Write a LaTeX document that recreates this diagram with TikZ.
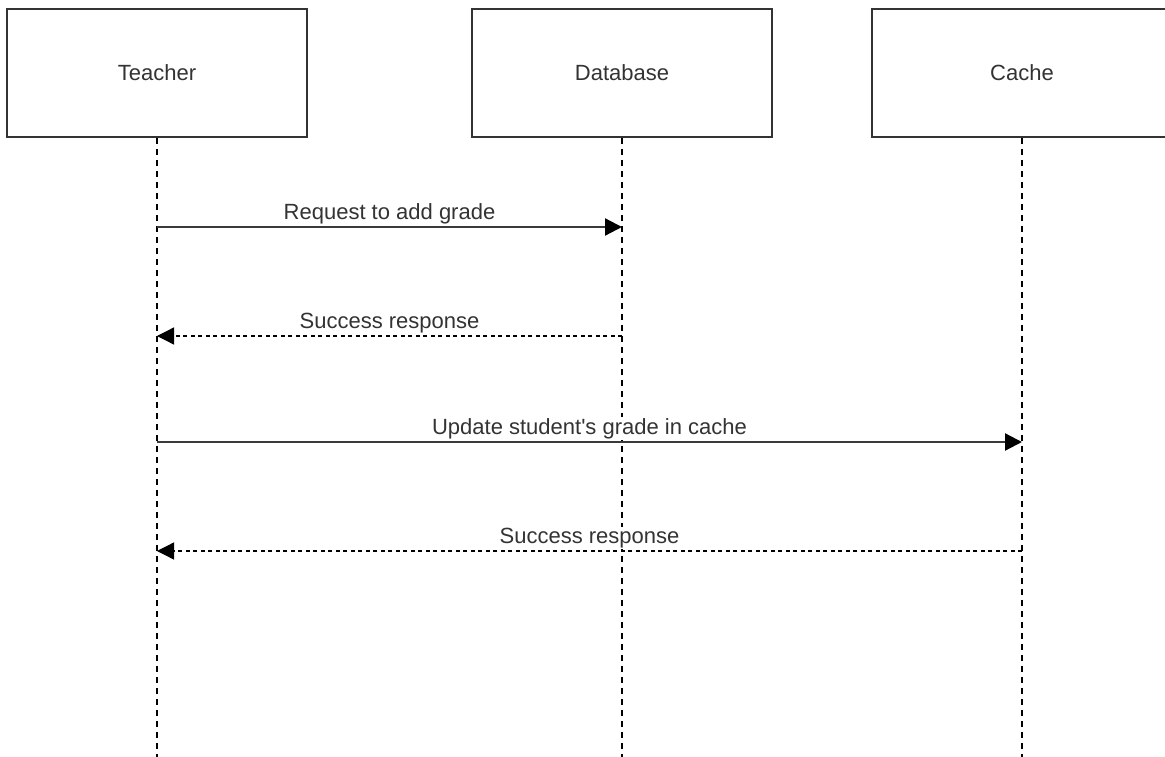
\documentclass[tikz,border=0pt]{standalone}
\usepackage{fontspec}
\setmainfont{Liberation Sans}
\usetikzlibrary{arrows.meta,calc}
\definecolor{ink}{HTML}{333333}
\definecolor{msgline}{HTML}{3a3a3a}
\tikzset{
  actor/.style={draw=ink, line width=1.6pt, fill=white, minimum width=300pt,
    minimum height=128pt, inner sep=0pt, text=ink,
    font=\fontsize{22}{26}\selectfont},
  lifeline/.style={draw=black, line width=1.3pt, dash pattern=on 6pt off 5pt},
  call/.style={draw=msgline, line width=2.2pt,
    -{Triangle[length=17pt, width=17pt, color=black]}},
  reply/.style={draw=black, line width=1.3pt, dash pattern=on 4pt off 3.5pt,
    -{Triangle[length=17pt, width=17pt, color=black]}},
  msglabel/.style={fill=white, text=ink, inner sep=1pt, anchor=south,
    font=\fontsize{22}{26}\selectfont}
}
\begin{document}
\begin{tikzpicture}[x=1pt, y=-1pt]
  \useasboundingbox (0,0) rectangle (1165,757);

  % participants
  \node[actor] (teacher) at (157,73) {Teacher};
  \node[actor] (db) at (622,73) {Database};
  \node[actor] (cache) at (1022,73) {Cache};

  % lifeline ends
  \coordinate (teacherEnd) at (157,757);
  \coordinate (dbEnd) at (622,757);
  \coordinate (cacheEnd) at (1022,757);

  \draw[lifeline] (teacher.south) -- (teacherEnd);
  \draw[lifeline] (db.south) -- (dbEnd);
  \draw[lifeline] (cache.south) -- (cacheEnd);

  % message anchors on the lifelines
  \coordinate (t1) at (157,227);  \coordinate (d1) at (622,227);
  \coordinate (t2) at (157,336);  \coordinate (d2) at (622,336);
  \coordinate (t3) at (157,442);  \coordinate (c3) at (1022,442);
  \coordinate (t4) at (157,551);  \coordinate (c4) at (1022,551);

  % messages
  \draw[call] (t1) -- (d1);
  \draw[reply] (d2) -- (t2);
  \draw[call] (t3) -- (c3);
  \draw[reply] (c4) -- (t4);

  % message labels
  \node[msglabel] (l1) at ($(t1)!0.5!(d1)+(0,-2)$) {Request to add grade};
  \node[msglabel] (l2) at ($(t2)!0.5!(d2)+(0,-2)$) {Success response};
  \node[msglabel] (l3) at ($(t3)!0.5!(c3)+(0,-2)$) {Update student\textquotesingle s grade in cache};
  \node[msglabel] (l4) at ($(t4)!0.5!(c4)+(0,-2)$) {Success response};
\end{tikzpicture}
\end{document}
